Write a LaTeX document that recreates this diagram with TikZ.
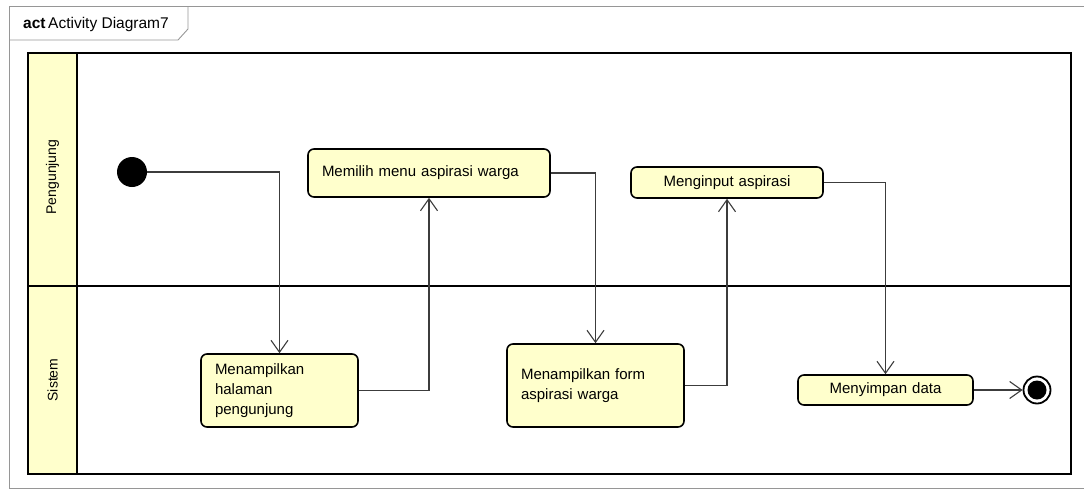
\documentclass[tikz,border=0pt]{standalone}
\usepackage{fontspec}
\setmainfont{Liberation Sans}
\usetikzlibrary{arrows.meta}
\definecolor{actfill}{RGB}{255,255,204}
\definecolor{framegray}{RGB}{150,150,150}
\definecolor{flowgray}{RGB}{60,60,60}
\begin{document}
\begin{tikzpicture}[x=1pt,y=-1pt,
	action/.style={draw, fill=actfill, rounded corners=6pt, line width=1.6pt,
		inner xsep=14pt, inner ysep=0pt, font=\fontsize{15}{20}\selectfont},
	flow/.style={draw=flowgray, line width=1.1pt, -{Straight Barb[length=12pt,width=17pt]}},
	lanelabel/.style={rotate=90, font=\fontsize{14}{16}\selectfont}]
	\useasboundingbox (0,0) rectangle (1084,490);
	% Frame and tab
	\draw[framegray, line width=0.9pt] (1084,6) -- (9,6) -- (9,488) -- (1084,488);
	\draw[framegray, line width=0.9pt] (9,40) -- (178,40) -- (188,29) -- (188,6);
	\path (23,24) node [anchor=west, inner sep=0pt, font=\fontsize{15.5}{18}\selectfont] {\textbf{act}\,Activity Diagram7};
	% Swimlanes
	\fill[actfill] (28,53) rectangle (77,474);
	\draw[line width=1.8pt] (28,53) rectangle (1071,474);
	\draw[line width=1.8pt] (77,53) -- (77,474);
	\draw[line width=1.8pt] (28,286) -- (1071,286);
	\path (52.5,177) node [lanelabel] (pengunjung) {Pengunjung};
	\path (52.5,380) node [lanelabel] (sistem) {Sistem};
	% Start and end
	\node [circle, fill=black, minimum size=30pt, inner sep=0pt] (start) at (132,172) {};
	\node [circle, draw, fill=white, line width=1.8pt, minimum size=27pt, inner sep=0pt] (end) at (1037,390) {};
	\fill (end) circle (9.5pt);
	% Actions
	\node [action, text width=129pt, align=left, minimum height=73pt] (halaman) at (279.5,390.5)
		{Menampilkan\\halaman\\pengunjung};
	\node [action, text width=214pt, align=left, minimum height=48pt] (memilih) at (429,173)
		{Memilih menu aspirasi warga};
	\node [action, text width=149pt, align=left, minimum height=83pt] (form) at (595.5,385.5)
		{Menampilkan form\\aspirasi warga};
	\node [action, text width=164pt, align=center, minimum height=31pt] (input) at (727,182.5)
		{Menginput aspirasi};
	\node [action, text width=147pt, align=center, minimum height=30pt] (simpan) at (885.5,390)
		{Menyimpan data};
	% Flows
	\draw[flow] (start) -| (halaman);
	\draw[flow] (halaman) -| (memilih);
	\draw[flow] (memilih) -| (form);
	\draw[flow] (form) -| (input);
	\draw[flow] (input) -| (simpan);
	\draw[flow] (simpan) -- (end);
\end{tikzpicture}
\end{document}
